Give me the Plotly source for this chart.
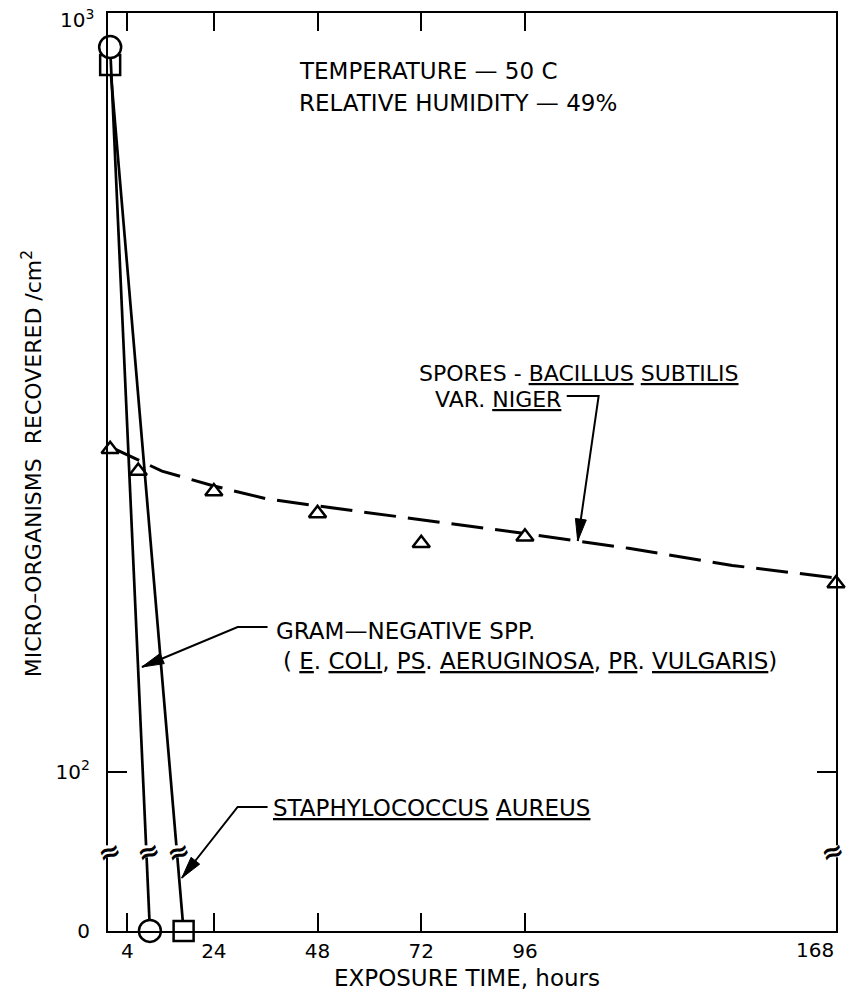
import math
import plotly.graph_objects as go

# ---------------- data ----------------
SPORE_HOURS = [0, 6.5, 24, 48, 72, 96, 168]
SPORE_COUNTS = [266, 249, 234, 219, 200, 204, 177]

FIT_HOURS = [0, 6, 12, 24, 36, 48, 72, 96, 120, 144, 168]
FIT_COUNTS = [268, 258, 249, 238, 229, 224, 215, 206, 197, 187, 180]

GRAM_HOURS = [0, 9.2]
GRAM_COUNTS = [902, 0]

STAPH_HOURS = [0, 17.0]
STAPH_COUNTS = [854, 0]

X_TICKS = [4, 24, 48, 72, 96]
X_TICK_LABELS = ["4", "24", "48", "72", "96"]
X_LAST = 168

# broken log axis: where "0" sits and where the break is drawn
LOG_ZERO = 1.79
LOG_BREAK = 1.895
LOG_TOP = 3.0
ZERO_POS = 10 ** LOG_ZERO
BREAK_POS = 10 ** LOG_BREAK
EPS = 1e-4

Y_TICKS = [ZERO_POS, 100]
Y_TICK_LABELS = ["0", "10<sup>2</sup>"]
Y_TOP_LABEL = "10<sup>3</sup>"

FONT = "DejaVu Sans"

# plot-area geometry (pixels)
W, H = 847, 999
L, R, T, B = 108, 838, 13, 931


def px(x):
    return (x - L) / (R - L)


def py(y):
    return (B - y) / (B - T)


def on_axis(vals):
    return [v if v > 0 else ZERO_POS for v in vals]


fig = go.Figure()

# fitted dashed curve for spores
fig.add_trace(go.Scatter(
    x=FIT_HOURS, y=FIT_COUNTS, mode="lines",
    line=dict(color="black", width=3, dash="32px,12px"),
    hoverinfo="skip", showlegend=False))

fig.add_trace(go.Scatter(
    x=SPORE_HOURS, y=SPORE_COUNTS, mode="markers",
    marker=dict(symbol="triangle-up", size=15, color="white",
                line=dict(color="black", width=2.5)),
    showlegend=False, cliponaxis=False))

fig.add_trace(go.Scatter(
    x=STAPH_HOURS, y=on_axis(STAPH_COUNTS), mode="lines+markers",
    line=dict(color="black", width=2.7),
    marker=dict(symbol="square", size=20, color="white",
                line=dict(color="black", width=2.5)),
    showlegend=False, cliponaxis=False))

fig.add_trace(go.Scatter(
    x=GRAM_HOURS, y=on_axis(GRAM_COUNTS), mode="lines+markers",
    line=dict(color="black", width=2.7),
    marker=dict(symbol="circle", size=22, color="white",
                line=dict(color="black", width=2.5)),
    showlegend=False, cliponaxis=False))

shapes = []
annotations = []


def text(x, y, s, size=23, anchor="left"):
    annotations.append(dict(
        xref="paper", yref="paper", x=px(x), y=py(y), text=s,
        showarrow=False, xanchor=anchor, yanchor="middle", borderpad=0,
        font=dict(family=FONT, size=size, color="black")))


def leader(points, head_len=22, head_w=5.5):
    path = "M " + " L ".join(f"{px(x):.5f},{py(y):.5f}" for x, y in points)
    shapes.append(dict(type="path", xref="paper", yref="paper", path=path,
                       line=dict(color="black", width=2)))
    (x0, y0), (x1, y1) = points[-2], points[-1]
    d = math.hypot(x1 - x0, y1 - y0)
    ux, uy = (x1 - x0) / d, (y1 - y0) / d
    bx, by = x1 - ux * head_len, y1 - uy * head_len
    nx, ny = -uy, ux
    tri = [(x1, y1), (bx + nx * head_w, by + ny * head_w),
           (bx - nx * head_w, by - ny * head_w)]
    p = "M " + " L ".join(f"{px(x):.5f},{py(y):.5f}" for x, y in tri) + " Z"
    shapes.append(dict(type="path", xref="paper", yref="paper", path=p,
                       fillcolor="black", line=dict(color="black", width=1)))


# text labels
text(299, 71, "TEMPERATURE — 50 C")
text(299, 103, "RELATIVE HUMIDITY — 49%")
text(419, 373, "SPORES - <u>BACILLUS</u> <u>SUBTILIS</u>", size=22)
text(435, 399, "VAR. <u>NIGER</u>", size=22)
text(275, 631, "GRAM—NEGATIVE SPP.")
text(282, 661, "( <u>E</u>. <u>COLI</u>, <u>PS</u>. <u>AERUGINOSA</u>, <u>PR</u>. <u>VULGARIS</u>)")
text(272, 808, "<u>STAPHYLOCOCCUS</u> <u>AUREUS</u>")

# leader lines with arrowheads
leader([(568, 396), (600, 396), (579, 541)])
leader([(268, 627), (238, 627), (142, 667)])
leader([(268, 807), (238, 807), (182, 878)])

# axis titles
text(468, 978, "EXPOSURE TIME, hours", anchor="center")
annotations.append(dict(
    xref="paper", yref="paper", x=px(32), y=py(464),
    text="MICRO–ORGANISMS  RECOVERED /cm<sup>2</sup>", textangle=-90,
    showarrow=False, xanchor="center", yanchor="middle",
    font=dict(family=FONT, size=22, color="black")))

# last x label, right-aligned to the corner
annotations.append(dict(
    xref="x", yref="paper", x=X_LAST, y=py(950), text=str(X_LAST),
    showarrow=False, xanchor="right", yanchor="middle",
    font=dict(family=FONT, size=20, color="black")))

# top y label (sits just below the corner as in the original)
annotations.append(dict(
    xref="paper", yref="paper", x=px(96), y=py(19), text=Y_TOP_LABEL,
    showarrow=False, xanchor="right", yanchor="middle",
    font=dict(family=FONT, size=20, color="black")))

# break marks on axes and on the falling lines
x_per_px = (X_LAST + 0.5) / (R - L)


def crossing(xs, ys):
    ly0 = math.log10(ys[0])
    ly1 = LOG_ZERO
    t = (ly0 - LOG_BREAK) / (ly0 - ly1)
    return xs[0] + t * (xs[1] - xs[0])


break_xs = [(-0.5, 2), (X_LAST, -4),
            (crossing(GRAM_HOURS, on_axis(GRAM_COUNTS)), 2),
            (crossing(STAPH_HOURS, on_axis(STAPH_COUNTS)), 2)]
yb = (LOG_BREAK - LOG_ZERO) / (LOG_TOP - LOG_ZERO)
for bx, nudge in break_xs:
    xp = L + (bx + 0.5) / x_per_px
    shapes.append(dict(type="rect", xref="paper", yref="paper",
                       x0=px(xp - 7), x1=px(xp + 7),
                       y0=yb - 6 / (B - T), y1=yb + 6 / (B - T),
                       fillcolor="white", line=dict(width=0)))
    annotations.append(dict(
        xref="paper", yref="paper", x=px(xp + nudge), y=yb,
        text="<b>≈</b>", borderpad=0,
        showarrow=False, xanchor="center", yanchor="middle", textangle=-20,
        font=dict(family=FONT, size=27, color="black")))

fig.update_layout(
    width=W, height=H,
    margin=dict(l=L, r=W - R, t=T, b=H - B),
    paper_bgcolor="white", plot_bgcolor="white",
    showlegend=False,
    shapes=shapes, annotations=annotations,
    font=dict(family=FONT, size=20, color="black"),
)

fig.update_xaxes(
    range=[-0.5, X_LAST], tickvals=X_TICKS, ticktext=X_TICK_LABELS,
    ticks="inside", ticklen=18, tickwidth=1.5, tickcolor="black",
    showline=True, linecolor="black", linewidth=2.2, mirror="ticks",
    showgrid=False, zeroline=False, ticklabelstandoff=1,
    tickfont=dict(family=FONT, size=20, color="black"))

fig.update_yaxes(
    type="log", range=[LOG_ZERO - EPS, LOG_TOP + EPS],
    tickvals=Y_TICKS, ticktext=Y_TICK_LABELS,
    ticks="inside", ticklen=19, tickwidth=1.5, tickcolor="black",
    showline=True, linecolor="black", linewidth=2.2, mirror="ticks",
    showgrid=False, zeroline=False, ticklabelstandoff=12,
    tickfont=dict(family=FONT, size=20, color="black"))

fig.write_html("out.html")
